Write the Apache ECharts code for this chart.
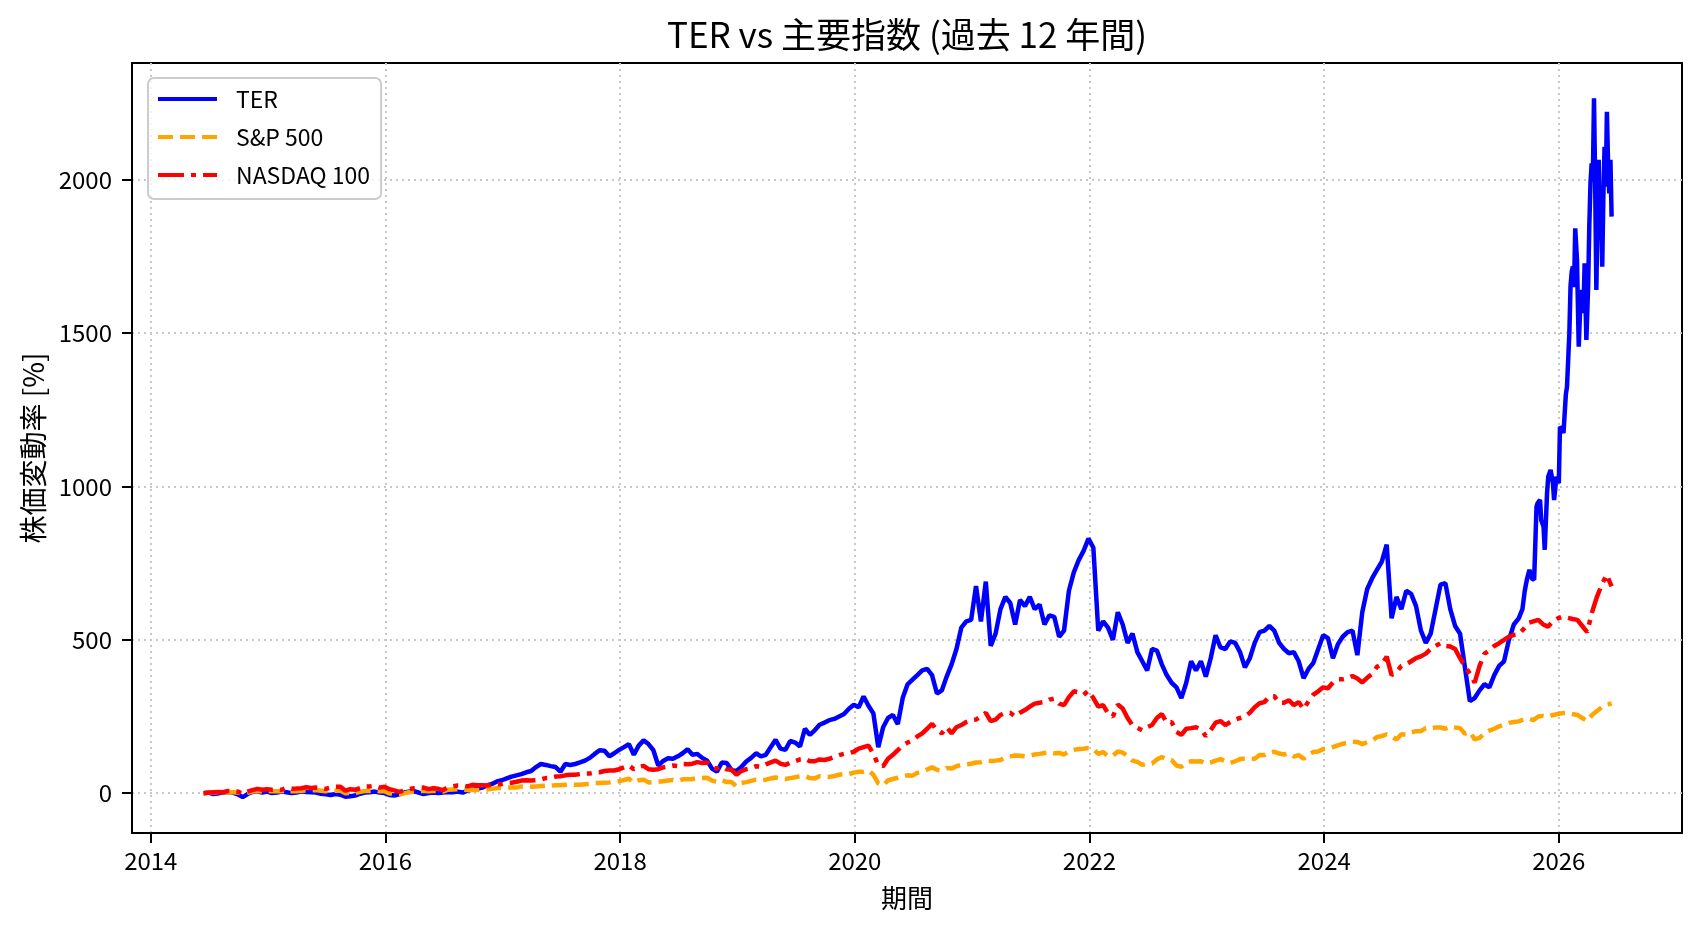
<!DOCTYPE html>
<html><head><meta charset="utf-8">
<script src="https://cdn.jsdelivr.net/npm/echarts@6/dist/echarts.min.js"></script>
<style>html,body{margin:0;padding:0;background:#fff;}#c{width:1702px;height:932px;}</style>
</head><body><div id="c"></div>
<script>
const titleText = 'TER vs 主要指数 (過去 12 年間)';
const xName = '期間';
const yName = '株価変動率 [%]';
const seriesNames = ['TER', 'S&P 500', 'NASDAQ 100'];
const xTicks = [2014, 2016, 2018, 2020, 2022, 2024, 2026];
const yTicks = [0, 500, 1000, 1500, 2000];
const startYear = 2014.45;   // first sample (mid-June 2014)
const stepsPerYear = 24;     // semi-monthly samples

// TER, semi-monthly, rows run from mid-June of one year to end of May of the next
const terMain = [
  0,2,-3,-1,3,4,2,-4,-13,-3,4,6,2,5,0,2,5,3,0,2,6,4,3,2,
  -2,-4,-6,-3,-5,-12,-10,-8,-2,2,3,5,2,0,-6,-8,-4,2,5,6,2,-3,0,2,
  0,2,4,3,5,2,8,12,14,18,25,30,38,42,48,54,58,62,68,72,85,95,92,88,
  85,70,95,92,95,100,106,115,128,140,138,120,130,141,150,160,125,155,172,160,140,90,105,114,
  112,120,130,143,125,128,115,106,80,70,100,98,75,72,85,103,115,130,120,125,150,174,145,141,
  170,165,152,210,190,205,223,230,238,242,250,258,275,288,280,315,285,260,150,215,245,255,225,310,
  355,370,385,400,405,385,325,335,380,420,470,540,560,565,675,560,690,480,520,600,640,620,550,630,
  610,640,600,615,550,580,575,510,530,660,720,760,790,830,800,530,560,540,500,590,550,490,520,460,
  430,400,470,465,420,385,360,345,310,360,430,400,430,380,440,515,475,470,495,490,460,410,440,490,
  525,530,545,530,490,470,456,460,430,375,405,425,470,515,505,440,485,510,525,530,450,590,665,700,
  728,755,810,570,640,600,660,650,610,530,490,520,600,680,685,600,545,520,410,300,310,335,355,345,
  385,415,430,500,550,570
];
// TER, denser samples for the volatile last months (decimal years)
const terTailT = [2025.69,2025.71,2025.73,2025.75,2025.77,2025.79,2025.81,2025.82,2025.84,2025.85,2025.87,2025.88,
  2025.90,2025.91,2025.93,2025.95,2025.96,2025.98,2026.00,2026.01,2026.03,2026.04,2026.06,2026.07,
  2026.09,2026.10,2026.11,2026.12,2026.13,2026.14,2026.155,2026.17,2026.18,2026.19,2026.20,2026.21,
  2026.22,2026.235,2026.25,2026.26,2026.27,2026.28,2026.29,2026.30,2026.31,2026.32,2026.33,2026.34,
  2026.35,2026.36,2026.37,2026.38,2026.39,2026.40,2026.41,2026.42,2026.43,2026.44,2026.45];
const terTailV = [600,660,700,728,700,696,934,946,956,891,869,793,
  980,1032,1054,1011,956,1032,1011,1195,1185,1174,1300,1326,
  1500,1652,1700,1717,1650,1842,1739,1456,1560,1619,1640,1565,
  1728,1478,1652,1850,1989,2054,2000,2266,1989,1641,1900,2065,
  1804,1900,1717,1950,2108,1978,2222,2050,1956,2065,1880];

// S&P 500, semi-monthly
const spx = [
  0,1,2,2,0,3,3,2,-2,1,5,7,5,8,6,6,6,9,6,6,8,9,9,10,
  8,6,8,8,8,0,1,0,4,7,7,8,6,6,-1,-2,-4,-1,3,5,6,8,6,7,
  7,5,11,12,13,12,10,11,10,10,12,14,17,17,17,18,18,22,22,21,22,23,24,24,
  26,26,27,28,27,27,29,30,33,33,34,35,38,39,43,47,34,42,44,35,36,37,39,41,
  43,40,45,45,46,49,49,50,41,37,43,36,36,22,33,36,40,44,42,44,48,51,48,46,
  49,52,55,56,49,48,55,54,53,56,60,62,62,67,70,70,74,60,32,25,42,46,50,55,
  58,57,66,70,77,84,76,74,82,80,88,92,94,96,100,101,106,105,106,108,117,120,123,122,
  120,122,126,128,131,134,130,131,126,137,141,144,145,147,143,128,134,120,122,136,132,121,106,102,
  92,96,97,110,118,110,108,90,86,100,104,103,104,96,100,106,111,104,98,104,111,113,112,112,
  124,124,131,135,129,126,130,119,124,112,126,134,136,144,144,150,156,161,163,168,167,160,166,170,
  183,186,192,185,175,192,190,198,202,202,212,211,214,214,210,217,214,212,194,200,175,180,196,204,
  210,218,223,229,232,234,240,243,238,250,252,249,255,258,261,262,258,255,245,235,255,268,280,288,
  293
];
// NASDAQ 100, semi-monthly
const ndx = [
  0,1,3,4,3,7,7,5,-2,5,10,14,11,13,11,12,11,17,14,15,16,19,17,18,
  17,14,18,21,21,8,13,11,16,22,22,24,18,21,13,9,4,8,13,16,17,18,13,16,
  14,10,20,22,25,25,22,27,26,26,25,28,29,30,33,34,37,41,42,41,42,45,49,50,
  54,55,58,60,60,62,64,64,67,68,72,74,74,78,84,90,78,86,89,78,76,78,84,87,
  90,88,95,94,96,101,98,100,85,80,86,78,76,60,72,78,82,88,86,94,100,106,96,92,
  100,104,110,112,104,104,110,108,112,118,124,128,130,135,145,150,155,128,92,88,112,125,140,155,
  165,172,185,195,210,226,205,195,215,195,215,222,232,238,240,250,262,235,240,255,262,262,250,262,
  271,282,292,295,297,305,308,292,287,313,332,329,321,334,310,282,287,260,250,289,276,245,221,213,
  205,215,222,245,258,230,232,200,190,210,212,215,208,186,205,230,235,222,232,240,245,250,262,280,
  293,297,316,316,295,295,303,287,297,274,300,321,332,345,342,361,371,371,374,382,374,361,376,389,
  412,420,445,385,395,415,420,430,440,446,455,470,480,489,480,478,470,440,413,390,360,415,455,465,
  480,489,500,510,516,518,535,555,560,565,550,543,560,570,576,572,568,565,545,525,590,640,680,712,
  674
];

const FONT = '"Noto Sans CJK JP", "Noto Sans", sans-serif';
const gridT = spx.map((_, i) => +(startYear + i / stepsPerYear).toFixed(4));
const terT = terMain.map((_, i) => gridT[i]).concat(terTailT);
const terV = terMain.concat(terTailV);
const pair = (t, v) => t.map((x, i) => [x, v[i]]);

const chart = echarts.init(document.getElementById('c'), null, {renderer: 'canvas', width: 1702, height: 932});
const axisCommon = {
  axisLine: {show: true, onZero: false, lineStyle: {color: '#000', width: 2}},
  splitLine: {show: true, lineStyle: {color: '#c8c8c8', width: 2, type: [2, 4]}},
  nameTextStyle: {fontSize: 26, color: '#000', fontFamily: FONT}
};
chart.setOption({
  animation: false,
  backgroundColor: '#fff',
  textStyle: {fontFamily: FONT},
  grid: {left: 132, right: 20, top: 63, bottom: 99, show: true, borderColor: '#000', borderWidth: 2, backgroundColor: 'transparent'},
  xAxis: Object.assign({}, axisCommon, {
    type: 'value', min: 2013.84, max: 2027.05,
    name: xName, nameLocation: 'middle', nameGap: 52,
    axisTick: {show: true, length: 10, inside: false, lineStyle: {color: '#000', width: 2}, customValues: xTicks},
    axisLabel: {customValues: xTicks, fontSize: 24, color: '#000', margin: 16, fontFamily: FONT, formatter: v => String(v)}
  }),
  yAxis: Object.assign({}, axisCommon, {
    type: 'value', min: -130, max: 2381,
    name: yName, nameLocation: 'middle', nameGap: 82, nameRotate: 90,
    nameTextStyle: {fontSize: 28, color: '#000', fontFamily: FONT},
    axisTick: {show: true, length: 10, inside: false, lineStyle: {color: '#000', width: 2}, customValues: yTicks},
    axisLabel: {customValues: yTicks, fontSize: 24, color: '#000', margin: 20, fontFamily: FONT, formatter: v => String(v)}
  }),
  legend: {
    orient: 'vertical', left: 148, top: 78, itemWidth: 59, itemHeight: 2, itemGap: 10,
    padding: [7, 11, 10, 8],
    backgroundColor: 'rgba(255,255,255,0.8)', borderColor: '#cccccc', borderWidth: 2, borderRadius: 6,
    itemStyle: {opacity: 0, borderWidth: 0},
    lineStyle: {width: 4},
    textStyle: {fontSize: 23, color: '#000', fontFamily: FONT, lineHeight: 28, padding: [0, 0, 0, 14]},
    data: seriesNames
  },
  graphic: [{
    type: 'text', x: 907, y: 35, silent: true,
    style: {text: titleText, fontSize: 35, fontFamily: FONT, fill: '#000', align: 'center', verticalAlign: 'middle'}
  }],
  series: [
    {name: seriesNames[0], type: 'line', data: pair(terT, terV), symbol: 'none', showSymbol: false,
     lineStyle: {color: '#0000ff', width: 4.5}, itemStyle: {color: '#0000ff'}},
    {name: seriesNames[1], type: 'line', data: pair(gridT, spx), symbol: 'none', showSymbol: false,
     lineStyle: {color: '#ffa500', width: 4.5, type: [15, 7]}, itemStyle: {color: '#ffa500'}},
    {name: seriesNames[2], type: 'line', data: pair(gridT, ndx), symbol: 'none', showSymbol: false,
     lineStyle: {color: '#ff0000', width: 4.5, type: [26, 7, 5, 7]}, itemStyle: {color: '#ff0000'}}
  ]
});
</script>
</body></html>
